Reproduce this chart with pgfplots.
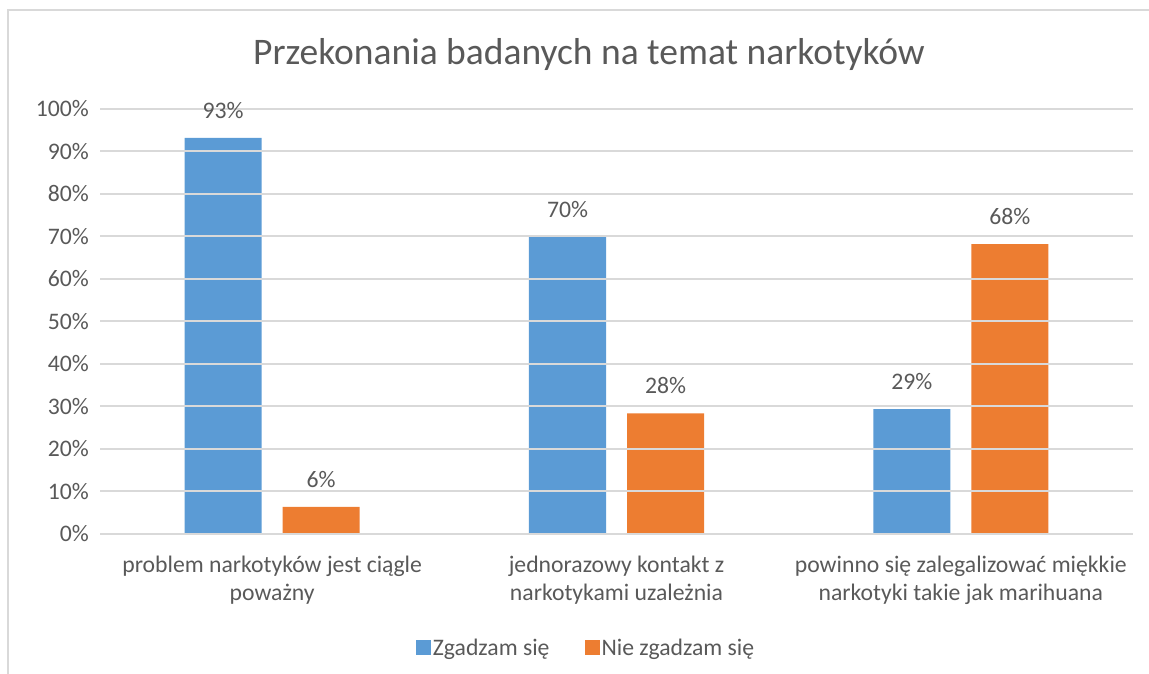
\documentclass[border=0pt]{standalone}
\usepackage{fontspec}
\setmainfont{Carlito}
\usepackage{pgfplots}
\pgfplotsset{compat=1.18}
\definecolor{txt}{HTML}{595959}
\definecolor{grd}{HTML}{D9D9D9}
\definecolor{cblue}{HTML}{5B9BD5}
\definecolor{corange}{HTML}{ED7D31}
\begin{document}
\begin{tikzpicture}
\path[use as bounding box] (0pt,0pt) rectangle (1149pt,674pt);
\draw[grd, line width=2pt] (8pt,0pt) -- (8pt,664pt) -- (1149pt,664pt);
\node[text=txt, font=\fontsize{37.5}{45}\selectfont] at (589pt,619pt) {Przekonania badanych na temat narkotyków};
\begin{axis}[
  at={(100pt,140pt)}, anchor=south west,
  scale only axis, width=1033pt, height=425pt,
  ybar=21pt, bar width=77pt,
  xmin=-0.5, xmax=2.5, ymin=0, ymax=100,
  xtick={0,1,2},
  xticklabels={problem narkotyków jest ciągle\\poważny, jednorazowy kontakt z\\narkotykami uzależnia, powinno się zalegalizować miękkie\\narkotyki takie jak marihuana},
  ytick={0,10,...,100},
  yticklabels={0\%,10\%,20\%,30\%,40\%,50\%,60\%,70\%,80\%,90\%,100\%},
  major tick length=0pt,
  axis line style={draw=none},
  ymajorgrids,
  major grid style={draw=grd, line width=2pt},
  axis on top,
  tick label style={text=txt, font=\fontsize{23.7}{28}\selectfont},
  yticklabel style={anchor=east, inner sep=0pt, xshift=-11pt},
  xticklabel style={align=center, anchor=north, inner sep=0pt, yshift=-22pt},
  point meta=explicit symbolic,
  nodes near coords,
  every node near coord/.append style={text=txt, font=\fontsize{23.7}{28}\selectfont, anchor=south, inner sep=0pt, yshift=19pt},
  legend columns=2,
  legend image code/.code={\fill[#1] (0pt,-7.5pt) rectangle (15pt,7.5pt);},
  legend style={draw=none, fill=none, inner sep=0pt, at={(0.4705,-0.268)}, anchor=center,
    font=\fontsize{23.7}{28}\selectfont, text=txt,
    /tikz/every even column/.append style={column sep=33pt}},
]
\addplot[fill=cblue, draw=none] coordinates {(0,93.2) [93\%] (1,70.0) [70\%] (2,29.4) [29\%]};
\addplot[fill=corange, draw=none] coordinates {(0,6.4) [6\%] (1,28.4) [28\%] (2,68.2) [68\%]};
\legend{Zgadzam się, Nie zgadzam się}
\end{axis}
\end{tikzpicture}
\end{document}
